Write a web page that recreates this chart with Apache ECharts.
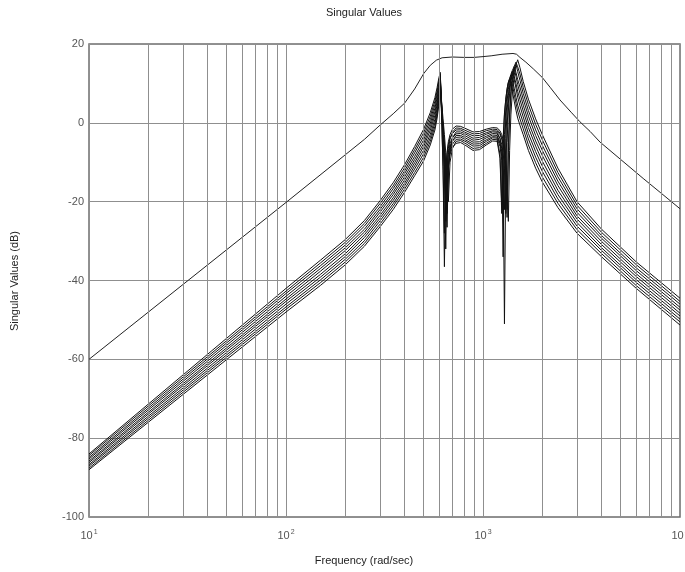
<!DOCTYPE html>
<html><head><meta charset="utf-8">
<script src="https://cdn.jsdelivr.net/npm/echarts@6/dist/echarts.min.js"></script>
<style>html,body{margin:0;padding:0;background:#fff}#c{width:685px;height:572px}</style>
</head><body><div id="c"></div>
<script>
// ---- data ----
const xTicks = [10, 100, 1000, 10000];
const yTicks = [-100, -80, -60, -40, -20, 0, 20];
const minorGridFreq = [20,30,40,50,60,70,80,90,200,300,400,500,600,700,800,900,2000,3000,4000,5000,6000,7000,8000,9000];

// largest singular value
const topFreq = [10,100,200,250,300,350,400,450,500,540,580,620,700,800,900,1000,1100,1250,1420,1480,1540,1650,1800,2000,2200,2460,2800,3100,3500,3930,5000,6500,8000,10000];
const topDb   = [-60,-20.2,-8.1,-4.2,-0.6,2.3,5.0,8.6,12.5,14.6,15.9,16.5,16.7,16.6,16.6,16.8,17.0,17.4,17.6,17.4,16.6,15.4,13.7,11.5,8.9,5.8,2.7,0.3,-2.2,-4.9,-9.3,-14.1,-17.8,-21.8];

// shared frequency grid for the bundle of smaller singular values
const bandFreq = [10,100,150,200,250,300,350,400,450,500,540,570,585,597,607,617,627,637,647,657,667,680,700,730,770,820,890,960,1040,1120,1180,1220,1245,1265,1285,1305,1325,1345,1365,1385,1410,1440,1470,1500,1540,1600,1700,1850,2000,2400,3000,4000,6000,10000];

const band0 = [-84.0,-42.0,-34.8,-29.6,-24.8,-19.8,-15.2,-10.6,-6.0, -1.6,2.6,6.4,9.0,11.4,12.8, 1.5,-12,-36.5,-13,-7.5,-4.8,-3.0,-1.6,-0.8, -0.9,-1.5,-2.3,-2.2,-1.6,-1.2, -1.3,-2.0,-3.0,-4.2,-6.0,-9.0,-14.5,-25,-7,2,8,12,14.7,16.0,14.0, 10.5,6.0,1.0,-3.0,-11.5,-20.0,-27.0,-35.3,-44.5];
const band1 = [-84.4,-42.7,-35.5,-30.3,-25.5,-20.5,-16.0,-11.4,-6.8, -2.5,1.7,5.5,8.1,10.6,12.3, 4,-4,-13,-32,-12,-6.5,-4.2,-2.4,-1.3, -1.4,-2.0,-2.8,-2.7,-2.0,-1.6, -1.7,-2.6,-3.8,-5.2,-7.5,-11.5,-22,-6,2.5,8,11.8,14.3,15.4,14.2,12.4, 9.0,4.6,-0.4,-4.3,-12.6,-20.9,-27.8,-36.0,-45.3];
const band2 = [-84.9,-43.3,-36.2,-31.0,-26.2,-21.3,-16.7,-12.2,-7.6, -3.4,0.8,4.6,7.3,9.9,11.8, 1,-11,-28,-12.5,-8,-5.5,-3.8,-2.7,-1.8, -1.8,-2.5,-3.3,-3.2,-2.5,-2.0, -2.1,-3.0,-4.2,-5.6,-8,-12,-24,-7.5,1.5,7,11,13.6,14.9,13.0,10.8, 7.5,3.1,-1.8,-5.7,-13.7,-21.8,-28.6,-36.8,-46.0];
const band3 = [-85.3,-44.0,-36.9,-31.7,-27.0,-22.0,-17.5,-12.9,-8.5, -4.3,-0.1,3.7,6.4,9.1,11.3, 5,-2,-8,-14,-26.5,-11,-6.5,-3.8,-2.3, -2.3,-2.9,-3.9,-3.7,-2.9,-2.3, -2.4,-4.0,-6.5,-12,-51,-12,-1,5,9,11.5,13.3,14.3,12.8,11.0,9.1, 6.0,1.7,-3.2,-7.0,-14.8,-22.7,-29.3,-37.5,-46.8];
const band4 = [-85.8,-44.7,-37.6,-32.4,-27.7,-22.7,-18.2,-13.7,-9.3, -5.2,-1.0,2.8,5.5,8.4,10.8, 3.5,-4,-12,-25,-12,-7.5,-5.2,-3.8,-2.8, -2.7,-3.4,-4.4,-4.2,-3.4,-2.7, -2.8,-4.0,-5.5,-7.5,-11.5,-23,-5,3,7.5,10.5,12.5,13.8,11.8,9.7,7.5, 4.5,0.2,-4.6,-8.3,-15.9,-23.6,-30.1,-38.3,-47.5];
const band5 = [-86.2,-45.3,-38.4,-33.2,-28.4,-23.5,-19.0,-14.5,-10.1, -6.0,-1.9,1.9,4.7,7.6,10.4, 4.5,-1.5,-6.5,-12,-23,-11.5,-7,-4.6,-3.2, -3.2,-3.9,-4.9,-4.8,-3.8,-3.1, -3.2,-5.0,-8.5,-34,-7,1,5.5,8.5,10.8,12.3,13.2,11.8,10.0,8.0,5.9, 3.0,-1.2,-5.9,-9.7,-17.1,-24.4,-30.9,-39.0,-48.3];
const band6 = [-86.7,-46.0,-39.1,-33.9,-29.1,-24.2,-19.7,-15.3,-10.9, -6.9,-2.9,0.9,3.8,6.9,9.9, 3,-3.5,-10.5,-22,-12,-8,-6,-4.6,-3.7, -3.6,-4.4,-5.4,-5.3,-4.3,-3.5, -3.6,-5.2,-7.2,-10.5,-22,-4,3,7,9.5,11.3,12.7,11.0,8.8,6.5,4.3, 1.5,-2.7,-7.3,-11.0,-18.2,-25.3,-31.7,-39.8,-49.0];
const band7 = [-87.1,-46.7,-39.8,-34.6,-29.9,-24.9,-20.5,-16.0,-11.7, -7.8,-3.8,0.0,2.9,6.1,9.4, 4,-1,-5.5,-11,-21,-11.5,-7.5,-5.4,-4.2, -4.1,-4.8,-5.9,-5.8,-4.7,-3.8, -3.9,-6.0,-9.5,-22,-3,3.5,7.5,10,11.3,12.1,10.8,8.8,6.5,4.5,2.6, 0.0,-4.1,-8.7,-12.3,-19.3,-26.2,-32.4,-40.5,-49.8];
const band8 = [-87.6,-47.3,-40.5,-35.3,-30.6,-25.7,-21.2,-16.8,-12.6, -8.7,-4.7,-0.9,2.1,5.4,8.9, 5,1,-3,-7.5,-12,-20,-10,-6.5,-4.7, -4.5,-5.3,-6.5,-6.3,-5.2,-4.2, -4.3,-8.0,-21,-4,2.5,6,8.5,10.2,11.2,11.6,9.8,7.2,5.0,3.0,1.0, -1.5,-5.6,-10.1,-13.7,-20.4,-27.1,-33.2,-41.3,-50.5];
const band9 = [-88.0,-48.0,-41.2,-36.0,-31.3,-26.4,-22.0,-17.6,-13.4, -9.6,-5.6,-1.8,1.2,4.6,8.4, 3,-1.5,-6,-10.5,-19,-11,-8,-6.2,-5.2, -5.0,-5.8,-7.0,-6.8,-5.6,-4.6, -4.7,-9.0,-23,-5,2,6,8.7,10.3,11.0,10.0,8.0,5.5,3.2,1.2,-0.6, -3.0,-7.0,-11.5,-15.0,-21.5,-28.0,-34.0,-42.0,-51.3];

// ---- chart ----
const FONT = '"Liberation Sans", Arial, Helvetica, sans-serif';
const GRID_COLOR = '#8f8f8f';
const bands = [band0, band1, band2, band3, band4, band5, band6, band7, band8, band9];

const series = [];
series.push({
  type: 'line', data: [[10, -200]], showSymbol: false, silent: true,
  lineStyle: { width: 0 }, z: 1,
  markLine: {
    silent: true, symbol: ['none', 'none'], animation: false,
    label: { show: false },
    lineStyle: { type: 'solid', color: GRID_COLOR, width: 1 },
    data: minorGridFreq.map(f => ({ xAxis: f }))
  }
});
bands.forEach((row) => {
  series.push({
    type: 'line', showSymbol: false, silent: true, z: 3,
    data: bandFreq.map((f, i) => [f, row[i]]),
    lineStyle: { color: '#111', width: 1 }
  });
});
series.push({
  type: 'line', showSymbol: false, silent: true, z: 4,
  data: topFreq.map((f, i) => [f, topDb[i]]),
  lineStyle: { color: '#222', width: 1 }
});

const chart = echarts.init(document.getElementById('c'), null, { renderer: 'canvas' });
chart.setOption({
  animation: false,
  backgroundColor: '#fff',
  grid: { left: 89, right: 5, top: 44, bottom: 55, show: true, borderColor: '#6e6e6e', borderWidth: 1.5, backgroundColor: 'transparent', containLabel: false, outerBoundsMode: 'none' },
  xAxis: {
    type: 'log', logBase: 10, min: xTicks[0], max: xTicks[xTicks.length - 1],
    axisLine: { show: false }, axisTick: { show: false },
    splitLine: { show: true, lineStyle: { color: GRID_COLOR, width: 1 } },
    axisLabel: {
      margin: 12, color: '#555', hideOverlap: false,
      formatter: v => '{b|10}{e|' + Math.round(Math.log10(v)) + '}',
      rich: {
        b: { fontSize: 11, fontFamily: FONT, color: '#555', lineHeight: 14 },
        e: { fontSize: 7, fontFamily: FONT, color: '#555', verticalAlign: 'top', lineHeight: 14, padding: [0, 0, 9, 1] }
      }
    }
  },
  yAxis: {
    type: 'value', min: yTicks[0], max: yTicks[yTicks.length - 1], interval: 20,
    axisLine: { show: false }, axisTick: { show: false },
    splitLine: { show: true, lineStyle: { color: GRID_COLOR, width: 1 } },
    axisLabel: { margin: 5, color: '#555', fontSize: 11, fontFamily: FONT }
  },
  graphic: [
    { type: 'text', x: 364, y: 13, style: { text: 'Singular Values', font: '11px ' + FONT, fill: '#222', textAlign: 'center', textVerticalAlign: 'middle' } },
    { type: 'text', x: 364, y: 561, style: { text: 'Frequency (rad/sec)', font: '11px ' + FONT, fill: '#222', textAlign: 'center', textVerticalAlign: 'middle' } },
    { type: 'text', x: 15, y: 281, rotation: Math.PI / 2, style: { text: 'Singular Values (dB)', font: '11px ' + FONT, fill: '#222', textAlign: 'center', textVerticalAlign: 'middle' } }
  ],
  series: series
});
</script>
</body></html>
